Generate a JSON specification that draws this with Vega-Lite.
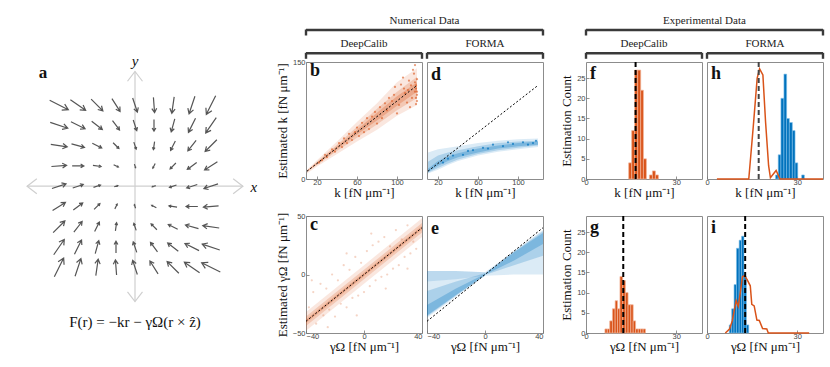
{
  "$schema": "https://vega.github.io/schema/vega-lite/v6.json",
  "padding": 0,
  "background": "white",
  "columns": 6,
  "spacing": {"row": 37, "column": 5},
  "bounds": "flush",
  "align": "each",
  "datasets": {
    "arrows": [
      {"i":-4,"j":4,"a":26.6,"m":1.07},{"i":-3,"j":4,"a":34.7,"m":0.95},{"i":-2,"j":4,"a":45,"m":0.85},{"i":-1,"j":4,"a":57.6,"m":0.78},{"i":0,"j":4,"a":71.6,"m":0.76},{"i":1,"j":4,"a":85.6,"m":0.78},{"i":2,"j":4,"a":98.2,"m":0.85},{"i":3,"j":4,"a":108.5,"m":0.95},{"i":4,"j":4,"a":116.6,"m":1.07},
      {"i":-4,"j":3,"a":18.5,"m":0.95},{"i":-3,"j":3,"a":26.6,"m":0.81},{"i":-2,"j":3,"a":37.9,"m":0.69},{"i":-1,"j":3,"a":53.2,"m":0.6},{"i":0,"j":3,"a":71.6,"m":0.57},{"i":1,"j":3,"a":90,"m":0.6},{"i":2,"j":3,"a":105.3,"m":0.69},{"i":3,"j":3,"a":116.6,"m":0.81},{"i":4,"j":3,"a":124.7,"m":0.95},
      {"i":-4,"j":2,"a":8.2,"m":0.85},{"i":-3,"j":2,"a":15.3,"m":0.69},{"i":-2,"j":2,"a":26.6,"m":0.54},{"i":-1,"j":2,"a":45,"m":0.42},{"i":0,"j":2,"a":71.6,"m":0.38},{"i":1,"j":2,"a":98.2,"m":0.42},{"i":2,"j":2,"a":116.6,"m":0.54},{"i":3,"j":2,"a":127.9,"m":0.69},{"i":4,"j":2,"a":135,"m":0.85},
      {"i":-4,"j":1,"a":-4.4,"m":0.78},{"i":-3,"j":1,"a":0,"m":0.6},{"i":-2,"j":1,"a":8.2,"m":0.42},{"i":-1,"j":1,"a":26.6,"m":0.27},{"i":0,"j":1,"a":71.6,"m":0.19},{"i":1,"j":1,"a":116.6,"m":0.27},{"i":2,"j":1,"a":135,"m":0.42},{"i":3,"j":1,"a":143.2,"m":0.6},{"i":4,"j":1,"a":147.6,"m":0.78},
      {"i":-4,"j":0,"a":-18.4,"m":0.76},{"i":-3,"j":0,"a":-18.4,"m":0.57},{"i":-2,"j":0,"a":-18.4,"m":0.38},{"i":-1,"j":0,"a":-18.4,"m":0.19},{"i":0,"j":0,"a":0,"m":0},{"i":1,"j":0,"a":161.6,"m":0.19},{"i":2,"j":0,"a":161.6,"m":0.38},{"i":3,"j":0,"a":161.6,"m":0.57},{"i":4,"j":0,"a":161.6,"m":0.76},
      {"i":-4,"j":-1,"a":-32.4,"m":0.78},{"i":-3,"j":-1,"a":-36.8,"m":0.6},{"i":-2,"j":-1,"a":-45,"m":0.42},{"i":-1,"j":-1,"a":-63.4,"m":0.27},{"i":0,"j":-1,"a":-108.4,"m":0.19},{"i":1,"j":-1,"a":-153.4,"m":0.27},{"i":2,"j":-1,"a":-171.8,"m":0.42},{"i":3,"j":-1,"a":180,"m":0.6},{"i":4,"j":-1,"a":175.6,"m":0.78},
      {"i":-4,"j":-2,"a":-45,"m":0.85},{"i":-3,"j":-2,"a":-52.1,"m":0.69},{"i":-2,"j":-2,"a":-63.4,"m":0.54},{"i":-1,"j":-2,"a":-81.8,"m":0.42},{"i":0,"j":-2,"a":-108.4,"m":0.38},{"i":1,"j":-2,"a":-135,"m":0.42},{"i":2,"j":-2,"a":-153.4,"m":0.54},{"i":3,"j":-2,"a":-164.7,"m":0.69},{"i":4,"j":-2,"a":-171.8,"m":0.85},
      {"i":-4,"j":-3,"a":-55.3,"m":0.95},{"i":-3,"j":-3,"a":-63.4,"m":0.81},{"i":-2,"j":-3,"a":-74.7,"m":0.69},{"i":-1,"j":-3,"a":-90,"m":0.6},{"i":0,"j":-3,"a":-108.4,"m":0.57},{"i":1,"j":-3,"a":-126.8,"m":0.6},{"i":2,"j":-3,"a":-142.1,"m":0.69},{"i":3,"j":-3,"a":-153.4,"m":0.81},{"i":4,"j":-3,"a":-161.5,"m":0.95},
      {"i":-4,"j":-4,"a":-63.4,"m":1.07},{"i":-3,"j":-4,"a":-71.5,"m":0.95},{"i":-2,"j":-4,"a":-81.8,"m":0.85},{"i":-1,"j":-4,"a":-94.4,"m":0.78},{"i":0,"j":-4,"a":-108.4,"m":0.76},{"i":1,"j":-4,"a":-122.4,"m":0.78},{"i":2,"j":-4,"a":-135,"m":0.85},{"i":3,"j":-4,"a":-145.3,"m":0.95},{"i":4,"j":-4,"a":-153.4,"m":1.07}
    ],
    "axl": [{"x":-5.68,"y":0,"x2":5.68,"y2":0},{"x":0,"y":-5.68,"x2":0,"y2":5.65}],
    "axh": [{"x":5.68,"y":0,"a":0},{"x":-5.68,"y":0,"a":180},{"x":0,"y":5.65,"a":270},{"x":0,"y":-5.68,"a":90}],
    "alab": [
      {"t":"x","x":6.26,"y":-0.05,"k":"ax"},
      {"t":"y","x":0,"y":6.15,"k":"ax"},
      {"t":"a","x":-4.84,"y":5.6,"k":"p"},
      {"t":"F(r) = −kr − γΩ(r × ẑ)","x":0,"y":-6.71,"k":"f"}
    ],
    "hNL": [{"t":"Numerical Data","x0":0,"x1":2.043,"xm":1.0215,"tier":1},{"t":"DeepCalib","x0":0,"x1":1,"xm":0.5,"tier":2}],
    "hNR": [{"t":"FORMA","x0":0,"x1":1,"xm":0.5,"tier":2}],
    "hEL": [{"t":"Experimental Data","x0":0,"x1":2.043,"xm":1.0215,"tier":1},{"t":"DeepCalib","x0":0,"x1":1,"xm":0.5,"tier":2}],
    "hER": [{"t":"FORMA","x0":0,"x1":1,"xm":0.5,"tier":2}],
    "bb": [
      {"l":"o","x":10,"lo":7,"hi":12},{"l":"o","x":20,"lo":16,"hi":24},{"l":"o","x":40,"lo":32,"hi":48},{"l":"o","x":60,"lo":48,"hi":73},{"l":"o","x":80,"lo":63,"hi":97},{"l":"o","x":100,"lo":81,"hi":124},{"l":"o","x":120,"lo":95,"hi":142},
      {"l":"m","x":10,"lo":9,"hi":11},{"l":"m","x":20,"lo":18,"hi":22},{"l":"m","x":40,"lo":36,"hi":44},{"l":"m","x":60,"lo":53,"hi":67},{"l":"m","x":80,"lo":70,"hi":90},{"l":"m","x":100,"lo":88,"hi":112},{"l":"m","x":120,"lo":104,"hi":131},
      {"l":"c","x":10,"lo":9.5,"hi":10.5},{"l":"c","x":20,"lo":19,"hi":21},{"l":"c","x":40,"lo":38,"hi":42},{"l":"c","x":60,"lo":57,"hi":63},{"l":"c","x":80,"lo":75,"hi":85},{"l":"c","x":100,"lo":94,"hi":106},{"l":"c","x":120,"lo":112,"hi":124}
    ],
    "bp": [{"x":95,"y":100},{"x":98,"y":118},{"x":102,"y":95},{"x":104,"y":121},{"x":108,"y":110},{"x":110,"y":98},{"x":112,"y":126},{"x":115,"y":104},{"x":117,"y":135},{"x":118,"y":112},{"x":119,"y":96},{"x":119,"y":120},{"x":120,"y":108},{"x":120,"y":128},{"x":118,"y":146},{"x":116,"y":140},{"x":113,"y":92},{"x":106,"y":130},{"x":100,"y":84},{"x":97,"y":108},{"x":92,"y":104},{"x":90,"y":88},{"x":88,"y":97},{"x":85,"y":78},{"x":83,"y":92},{"x":80,"y":71},{"x":78,"y":86},{"x":75,"y":80},{"x":72,"y":64},{"x":70,"y":78},{"x":67,"y":60},{"x":65,"y":72},{"x":62,"y":55},{"x":60,"y":66},{"x":58,"y":60},{"x":55,"y":50},{"x":52,"y":58},{"x":50,"y":46},{"x":47,"y":52},{"x":45,"y":41},{"x":42,"y":46},{"x":38,"y":35},{"x":35,"y":38},{"x":30,"y":28},{"x":28,"y":31},{"x":25,"y":24},{"x":22,"y":21},{"x":107,"y":116},{"x":111,"y":114},{"x":114,"y":120},{"x":119,"y":116},{"x":120,"y":112},{"x":119,"y":104},{"x":120,"y":100},{"x":118,"y":124}],
    "dd": [
      {"l":"o","x":10,"lo":7,"hi":34},{"l":"o","x":20,"lo":12,"hi":38},{"l":"o","x":30,"lo":18,"hi":40},{"l":"o","x":40,"lo":23,"hi":42},{"l":"o","x":60,"lo":30,"hi":46},{"l":"o","x":80,"lo":35,"hi":49},{"l":"o","x":100,"lo":38,"hi":51},{"l":"o","x":120,"lo":41,"hi":52},
      {"l":"m","x":10,"lo":8,"hi":22},{"l":"m","x":20,"lo":14,"hi":30},{"l":"m","x":30,"lo":20,"hi":34},{"l":"m","x":40,"lo":25,"hi":37},{"l":"m","x":60,"lo":32,"hi":42},{"l":"m","x":80,"lo":37,"hi":46},{"l":"m","x":100,"lo":40,"hi":48},{"l":"m","x":120,"lo":43,"hi":49},
      {"l":"c","x":10,"lo":9,"hi":13},{"l":"c","x":20,"lo":17,"hi":23},{"l":"c","x":30,"lo":23,"hi":29},{"l":"c","x":40,"lo":28,"hi":33},{"l":"c","x":60,"lo":34,"hi":39},{"l":"c","x":80,"lo":39,"hi":43},{"l":"c","x":100,"lo":42,"hi":46},{"l":"c","x":120,"lo":44,"hi":48}
    ],
    "dp": [{"x":30,"y":26},{"x":45,"y":31},{"x":55,"y":37},{"x":65,"y":40},{"x":75,"y":44},{"x":85,"y":42},{"x":95,"y":45},{"x":105,"y":47},{"x":115,"y":46},{"x":118,"y":49},{"x":25,"y":21},{"x":35,"y":30},{"x":50,"y":36},{"x":70,"y":39},{"x":90,"y":47},{"x":110,"y":44}],
    "lin1": [{"x":10,"y":10},{"x":120,"y":120}],
    "lin2": [{"x":-40,"y":-40},{"x":40,"y":40}],
    "cc": [
      {"l":"o","x":-40,"lo":-48,"hi":-32},{"l":"o","x":0,"lo":-8,"hi":8},{"l":"o","x":40,"lo":32,"hi":48},
      {"l":"m","x":-40,"lo":-44,"hi":-36},{"l":"m","x":0,"lo":-4,"hi":4},{"l":"m","x":40,"lo":36,"hi":44},
      {"l":"c","x":-40,"lo":-41.5,"hi":-38.5},{"l":"c","x":0,"lo":-1.5,"hi":1.5},{"l":"c","x":40,"lo":38.5,"hi":41.5}
    ],
    "cp": [{"x":-38,"y":-28},{"x":-35,"y":-15},{"x":-33,"y":-42},{"x":-30,"y":-8},{"x":-28,"y":-35},{"x":-26,"y":-12},{"x":-24,"y":-30},{"x":-22,"y":0},{"x":-20,"y":-36},{"x":-18,"y":-5},{"x":-16,"y":-25},{"x":-14,"y":8},{"x":-12,"y":-28},{"x":-10,"y":4},{"x":-8,"y":-20},{"x":-6,"y":15},{"x":-4,"y":-18},{"x":-2,"y":10},{"x":0,"y":-15},{"x":2,"y":20},{"x":4,"y":-10},{"x":6,"y":25},{"x":8,"y":-5},{"x":10,"y":28},{"x":12,"y":-2},{"x":14,"y":32},{"x":16,"y":0},{"x":18,"y":24},{"x":20,"y":5},{"x":22,"y":38},{"x":24,"y":8},{"x":26,"y":30},{"x":28,"y":15},{"x":30,"y":42},{"x":32,"y":18},{"x":34,"y":28},{"x":36,"y":22},{"x":-36,"y":-5},{"x":-12,"y":18},{"x":15,"y":-12},{"x":30,"y":5},{"x":-25,"y":-45},{"x":5,"y":35},{"x":-5,"y":-35}],
    "ee": [
      {"g":"Lo","l":"o","x":-40,"lo":-37,"hi":3},{"g":"Lo","l":"o","x":-20,"lo":-19,"hi":3},{"g":"Lo","l":"o","x":0,"lo":-1,"hi":2},
      {"g":"Lt","l":"o","x":-40,"lo":-6,"hi":3},{"g":"Lt","l":"o","x":-20,"lo":-4,"hi":3},{"g":"Lt","l":"o","x":0,"lo":-1,"hi":2},
      {"g":"Lm","l":"m","x":-40,"lo":-36,"hi":-14},{"g":"Lm","l":"m","x":-20,"lo":-18,"hi":-6},{"g":"Lm","l":"m","x":0,"lo":-1,"hi":1},
      {"g":"Lc","l":"c","x":-40,"lo":-35,"hi":-26},{"g":"Lc","l":"c","x":-20,"lo":-17.5,"hi":-12},{"g":"Lc","l":"c","x":0,"lo":-0.5,"hi":0.5},
      {"g":"Ro","l":"o","x":0,"lo":-1,"hi":2},{"g":"Ro","l":"o","x":20,"lo":0,"hi":20},{"g":"Ro","l":"o","x":40,"lo":0,"hi":38},
      {"g":"Rm","l":"m","x":0,"lo":-0.5,"hi":1},{"g":"Rm","l":"m","x":20,"lo":8,"hi":19.5},{"g":"Rm","l":"m","x":40,"lo":16,"hi":37},
      {"g":"Rc","l":"c","x":0,"lo":-0.3,"hi":0.5},{"g":"Rc","l":"c","x":20,"lo":12,"hi":19},{"g":"Rc","l":"c","x":40,"lo":26,"hi":35.5}
    ],
    "fb": [{"a":14.2,"b":15.2,"n":4},{"a":15.2,"b":16.2,"n":12},{"a":16.2,"b":17.2,"n":27},{"a":17.2,"b":18.2,"n":27},{"a":18.2,"b":19.1,"n":22},{"a":19.1,"b":20.1,"n":5},{"a":21.1,"b":22.1,"n":1},{"a":22.1,"b":23.1,"n":2},{"a":23.1,"b":24.1,"n":1}],
    "gb": [{"a":6.3,"b":7.1,"n":1},{"a":7.1,"b":7.9,"n":1},{"a":7.9,"b":8.8,"n":3},{"a":8.8,"b":9.7,"n":6},{"a":9.7,"b":10.5,"n":8},{"a":10.5,"b":11.3,"n":6},{"a":11.3,"b":12.2,"n":14},{"a":12.2,"b":13.1,"n":13},{"a":13.1,"b":14.0,"n":10},{"a":14.0,"b":14.9,"n":7},{"a":14.9,"b":15.7,"n":7},{"a":15.7,"b":16.5,"n":3},{"a":16.5,"b":17.4,"n":1},{"a":17.4,"b":18.2,"n":1},{"a":18.2,"b":19.0,"n":1},{"a":19.0,"b":19.8,"n":1}],
    "hb": [{"a":22.8,"b":23.7,"n":1},{"a":23.7,"b":24.6,"n":6},{"a":24.6,"b":25.6,"n":20},{"a":25.6,"b":26.5,"n":26},{"a":26.5,"b":27.4,"n":15},{"a":27.4,"b":28.4,"n":14},{"a":28.4,"b":29.3,"n":12},{"a":29.3,"b":30.2,"n":4},{"a":31.5,"b":32.4,"n":1}],
    "ib": [{"a":7.4,"b":8.2,"n":2},{"a":8.2,"b":9.0,"n":6},{"a":9.0,"b":9.8,"n":12},{"a":9.8,"b":10.7,"n":21},{"a":10.7,"b":11.5,"n":23},{"a":11.5,"b":12.3,"n":24},{"a":12.3,"b":13.1,"n":14},{"a":13.1,"b":13.9,"n":2}],
    "hl": [{"x":3.3,"y":0},{"x":13.9,"y":0},{"x":15.4,"y":13},{"x":16.7,"y":25},{"x":17.5,"y":27.3},{"x":18.6,"y":25.8},{"x":19.5,"y":14},{"x":20.5,"y":3.3},{"x":21.1,"y":0.3},{"x":23.0,"y":2.1},{"x":24.3,"y":0},{"x":38.6,"y":0}],
    "il": [{"x":6.1,"y":0},{"x":7.5,"y":1},{"x":8.4,"y":3},{"x":9.7,"y":8},{"x":10.4,"y":6.6},{"x":11.05,"y":9.8},{"x":11.8,"y":14},{"x":12.5,"y":14.2},{"x":13.3,"y":13.3},{"x":14.4,"y":11.7},{"x":14.9,"y":7.1},{"x":15.7,"y":6.7},{"x":16.6,"y":3.2},{"x":17.4,"y":3.1},{"x":18.5,"y":1.1},{"x":19.9,"y":1},{"x":20.4,"y":0},{"x":34.0,"y":0}],
    "fv": [{"v":16.5}],
    "gv": [{"v":12.4}],
    "hv": [{"v":17.2}],
    "iv": [{"v":12.7}]
  },
  "concat": [
    {"width":1,"height":1,"view":{"stroke":null},"data":{"values":[]},"mark":"point"},
    {
      "width":116,"height":24.5,"view":{"stroke":null},"data":{"name":"hNL"},
      "encoding":{"y":{"field":"tier","type":"quantitative","scale":{"domain":[-0.2876,0.764],"reverse":true,"nice":false,"zero":false},"axis":null}},
      "layer":[
        {"mark":{"type":"rule","color":"#3a3a3a","strokeWidth":2.4},"encoding":{"x":{"field":"x0","type":"quantitative","scale":{"domain":[0,1],"nice":false,"zero":false},"axis":null},"x2":{"field":"x1"}}},
        {"mark":{"type":"tick","orient":"vertical","color":"#3a3a3a","thickness":2.4,"size":6,"yOffset":2.5,"opacity":1},"encoding":{"x":{"field":"x0","type":"quantitative"}}},
        {"mark":{"type":"tick","orient":"vertical","color":"#3a3a3a","thickness":2.4,"size":6,"yOffset":2.5,"opacity":1},"encoding":{"x":{"field":"x1","type":"quantitative"}}},
        {"mark":{"type":"text","fontSize":11,"dy":-6,"baseline":"alphabetic","color":"#222","font":"Liberation Serif"},"encoding":{"x":{"field":"xm","type":"quantitative"},"text":{"field":"t"}}}
      ]
    },
    {
      "width":116,"height":24.5,"view":{"stroke":null},"data":{"name":"hNR"},
      "encoding":{"y":{"field":"tier","type":"quantitative","scale":{"domain":[-0.2876,0.764],"reverse":true,"nice":false,"zero":false},"axis":null}},
      "layer":[
        {"mark":{"type":"rule","color":"#3a3a3a","strokeWidth":2.4},"encoding":{"x":{"field":"x0","type":"quantitative","scale":{"domain":[0,1],"nice":false,"zero":false},"axis":null},"x2":{"field":"x1"}}},
        {"mark":{"type":"tick","orient":"vertical","color":"#3a3a3a","thickness":2.4,"size":6,"yOffset":2.5,"opacity":1},"encoding":{"x":{"field":"x0","type":"quantitative"}}},
        {"mark":{"type":"tick","orient":"vertical","color":"#3a3a3a","thickness":2.4,"size":6,"yOffset":2.5,"opacity":1},"encoding":{"x":{"field":"x1","type":"quantitative"}}},
        {"mark":{"type":"text","fontSize":11,"dy":-6,"baseline":"alphabetic","color":"#222","font":"Liberation Serif"},"encoding":{"x":{"field":"xm","type":"quantitative"},"text":{"field":"t"}}}
      ]
    },
    {"width":33,"height":1,"view":{"stroke":null},"data":{"values":[]},"mark":"point"},
    {
      "width":116,"height":24.5,"view":{"stroke":null},"data":{"name":"hEL"},
      "encoding":{"y":{"field":"tier","type":"quantitative","scale":{"domain":[-0.2876,0.764],"reverse":true,"nice":false,"zero":false},"axis":null}},
      "layer":[
        {"mark":{"type":"rule","color":"#3a3a3a","strokeWidth":2.4},"encoding":{"x":{"field":"x0","type":"quantitative","scale":{"domain":[0,1],"nice":false,"zero":false},"axis":null},"x2":{"field":"x1"}}},
        {"mark":{"type":"tick","orient":"vertical","color":"#3a3a3a","thickness":2.4,"size":6,"yOffset":2.5,"opacity":1},"encoding":{"x":{"field":"x0","type":"quantitative"}}},
        {"mark":{"type":"tick","orient":"vertical","color":"#3a3a3a","thickness":2.4,"size":6,"yOffset":2.5,"opacity":1},"encoding":{"x":{"field":"x1","type":"quantitative"}}},
        {"mark":{"type":"text","fontSize":11,"dy":-6,"baseline":"alphabetic","color":"#222","font":"Liberation Serif"},"encoding":{"x":{"field":"xm","type":"quantitative"},"text":{"field":"t"}}}
      ]
    },
    {
      "width":116,"height":24.5,"view":{"stroke":null},"data":{"name":"hER"},
      "encoding":{"y":{"field":"tier","type":"quantitative","scale":{"domain":[-0.2876,0.764],"reverse":true,"nice":false,"zero":false},"axis":null}},
      "layer":[
        {"mark":{"type":"rule","color":"#3a3a3a","strokeWidth":2.4},"encoding":{"x":{"field":"x0","type":"quantitative","scale":{"domain":[0,1],"nice":false,"zero":false},"axis":null},"x2":{"field":"x1"}}},
        {"mark":{"type":"tick","orient":"vertical","color":"#3a3a3a","thickness":2.4,"size":6,"yOffset":2.5,"opacity":1},"encoding":{"x":{"field":"x0","type":"quantitative"}}},
        {"mark":{"type":"tick","orient":"vertical","color":"#3a3a3a","thickness":2.4,"size":6,"yOffset":2.5,"opacity":1},"encoding":{"x":{"field":"x1","type":"quantitative"}}},
        {"mark":{"type":"text","fontSize":11,"dy":-6,"baseline":"alphabetic","color":"#222","font":"Liberation Serif"},"encoding":{"x":{"field":"xm","type":"quantitative"},"text":{"field":"t"}}}
      ]
    },
    {
      "width":301,"height":117,"view":{"stroke":null},
      "layer":[
        {"data":{"name":"axl"},"mark":{"type":"rule","color":"#cfcfcf","strokeWidth":1.2},
         "encoding":{"x":{"field":"x","type":"quantitative","scale":{"domain":[-7.105,8.737],"nice":false,"zero":false},"axis":null},
                     "y":{"field":"y","type":"quantitative","scale":{"domain":[0.355,6.118],"nice":false,"zero":false},"axis":null},
                     "x2":{"field":"x2"},"y2":{"field":"y2"}}},
        {"data":{"name":"axh"},"mark":{"type":"point","shape":"M-1.3,-1L0,0L-1.3,1","filled":false,"size":225,"color":"#cfcfcf","strokeWidth":1.2,"opacity":1},
         "encoding":{"x":{"field":"x","type":"quantitative"},"y":{"field":"y","type":"quantitative"},"angle":{"field":"a","type":"quantitative","scale":null}}},
        {"data":{"name":"arrows"},"mark":{"type":"point","shape":"M-1,0L1,0M0.45,-0.32L1,0L0.45,0.32","filled":false,"color":"#555555","strokeWidth":1.2,"opacity":1},
         "encoding":{"x":{"field":"i","type":"quantitative"},"y":{"field":"j","type":"quantitative"},
                     "angle":{"field":"a","type":"quantitative","scale":null},
                     "size":{"field":"m","type":"quantitative","scale":{"type":"pow","exponent":2,"domain":[0,1.07],"range":[0,435]},"legend":null}}},
        {"data":{"name":"alab"},"transform":[{"filter":"datum.k == 'ax'"}],"mark":{"type":"text","font":"Liberation Serif","fontStyle":"italic","fontSize":15,"color":"#111"},
         "encoding":{"x":{"field":"x","type":"quantitative"},"y":{"field":"y","type":"quantitative"},"text":{"field":"t"}}},
        {"data":{"name":"alab"},"transform":[{"filter":"datum.k == 'p'"}],"mark":{"type":"text","font":"Liberation Serif","fontWeight":"bold","fontSize":17,"color":"#111"},
         "encoding":{"x":{"field":"x","type":"quantitative"},"y":{"field":"y","type":"quantitative"},"text":{"field":"t"}}},
        {"data":{"name":"alab"},"transform":[{"filter":"datum.k == 'f'"}],"mark":{"type":"text","font":"Liberation Serif","fontSize":15,"color":"#111"},
         "encoding":{"x":{"field":"x","type":"quantitative"},"y":{"field":"y","type":"quantitative"},"text":{"field":"t"}}}
      ]
    },
    {
      "width":116,"height":117,"title":"b",
      "layer":[
        {"data":{"name":"bb"},"mark":{"type":"area","color":"#D95319","clip":true},
         "encoding":{"x":{"field":"x","type":"quantitative","scale":{"domain":[9,125],"nice":false,"zero":false},"axis":{"values":[20,40,60,80,100,120],"labelOverlap":false,"title":"k [fN μm⁻¹]"}},
                     "y":{"field":"lo","type":"quantitative","scale":{"domain":[0,150],"nice":false},"axis":{"values":[0,50,100,150],"labelOverlap":false,"title":"Estimated k [fN μm⁻¹]"}},
                     "y2":{"field":"hi"},"detail":{"field":"l"},
                     "opacity":{"field":"l","type":"ordinal","scale":{"domain":["o","m","c"],"range":[0.14,0.28,0.55]},"legend":null}}},
        {"data":{"name":"bp"},"mark":{"type":"circle","color":"#D95319","size":5,"opacity":0.6,"clip":true},
         "encoding":{"x":{"field":"x","type":"quantitative"},"y":{"field":"y","type":"quantitative"}}},
        {"data":{"name":"lin1"},"mark":{"type":"line","color":"#000","strokeDash":[2,2],"strokeWidth":1},
         "encoding":{"x":{"field":"x","type":"quantitative"},"y":{"field":"y","type":"quantitative"}}}
      ]
    },
    {
      "width":116,"height":117,"title":"d",
      "layer":[
        {"data":{"name":"dd"},"mark":{"type":"area","color":"#0072BD","clip":true},
         "encoding":{"x":{"field":"x","type":"quantitative","scale":{"domain":[9,125],"nice":false,"zero":false},"axis":{"values":[20,40,60,80,100,120],"labelOverlap":false,"title":"k [fN μm⁻¹]"}},
                     "y":{"field":"lo","type":"quantitative","scale":{"domain":[0,150],"nice":false},"axis":null},
                     "y2":{"field":"hi"},"detail":{"field":"l"},
                     "opacity":{"field":"l","type":"ordinal","scale":{"domain":["o","m","c"],"range":[0.14,0.28,0.5]},"legend":null}}},
        {"data":{"name":"dp"},"mark":{"type":"circle","color":"#0072BD","size":5,"opacity":0.7,"clip":true},
         "encoding":{"x":{"field":"x","type":"quantitative"},"y":{"field":"y","type":"quantitative"}}},
        {"data":{"name":"lin1"},"mark":{"type":"line","color":"#000","strokeDash":[2,2],"strokeWidth":1},
         "encoding":{"x":{"field":"x","type":"quantitative"},"y":{"field":"y","type":"quantitative"}}}
      ]
    },
    {"width":33,"height":1,"view":{"stroke":null},"data":{"values":[]},"mark":"point"},
    {
      "width":116,"height":117,"title":"f",
      "layer":[
        {"data":{"name":"fb"},"mark":{"type":"rect","color":"#D95319","stroke":"#f2b49a","strokeWidth":0.7},
         "encoding":{"x":{"field":"a","type":"quantitative","scale":{"domain":[0,38.6],"nice":false,"zero":false},"axis":{"values":[0,10,20,30],"labelOverlap":false,"title":"k [fN μm⁻¹]"}},
                     "x2":{"field":"b"},
                     "y":{"field":"n","type":"quantitative","scale":{"domain":[0,29],"nice":false},"axis":{"values":[0,5,10,15,20,25],"labelOverlap":false,"title":"Estimation Count"}},
                     "y2":{"datum":0}}},
        {"data":{"name":"fv"},"mark":{"type":"rule","color":"#000","strokeDash":[5,3],"strokeWidth":2},
         "encoding":{"x":{"field":"v","type":"quantitative"}}}
      ]
    },
    {
      "width":116,"height":117,"title":"h",
      "layer":[
        {"data":{"name":"hb"},"mark":{"type":"rect","color":"#0072BD","stroke":"#7fc0ea","strokeWidth":0.6},
         "encoding":{"x":{"field":"a","type":"quantitative","scale":{"domain":[0,38.6],"nice":false,"zero":false},"axis":{"values":[0,10,20,30],"labelOverlap":false,"title":"k [fN μm⁻¹]"}},
                     "x2":{"field":"b"},
                     "y":{"field":"n","type":"quantitative","scale":{"domain":[0,29],"nice":false},"axis":null},
                     "y2":{"datum":0}}},
        {"data":{"name":"hl"},"mark":{"type":"line","color":"#D95319","strokeWidth":1.5},
         "encoding":{"x":{"field":"x","type":"quantitative"},"y":{"field":"y","type":"quantitative"}}},
        {"data":{"name":"hv"},"mark":{"type":"rule","color":"#444","strokeDash":[5,3],"strokeWidth":2},
         "encoding":{"x":{"field":"v","type":"quantitative"}}}
      ]
    },
    {"width":1,"height":1,"view":{"stroke":null},"data":{"values":[]},"mark":"point"},
    {
      "width":116,"height":117,"title":"c",
      "layer":[
        {"data":{"name":"cc"},"mark":{"type":"area","color":"#D95319","clip":true},
         "encoding":{"x":{"field":"x","type":"quantitative","scale":{"domain":[-40,40],"nice":false,"zero":false},"axis":{"values":[-40,-20,0,20,40],"labelOverlap":false,"labelFlush":true,"title":"γΩ [fN μm⁻¹]"}},
                     "y":{"field":"lo","type":"quantitative","scale":{"domain":[-50,50],"nice":false},"axis":{"values":[-50,0,50],"labelOverlap":false,"title":"Estimated γΩ [fN μm⁻¹]"}},
                     "y2":{"field":"hi"},"detail":{"field":"l"},
                     "opacity":{"field":"l","type":"ordinal","scale":{"domain":["o","m","c"],"range":[0.14,0.3,0.6]},"legend":null}}},
        {"data":{"name":"cp"},"mark":{"type":"circle","color":"#D95319","size":5,"opacity":0.25,"clip":true},
         "encoding":{"x":{"field":"x","type":"quantitative"},"y":{"field":"y","type":"quantitative"}}},
        {"data":{"name":"lin2"},"mark":{"type":"line","color":"#000","strokeDash":[2,2],"strokeWidth":1},
         "encoding":{"x":{"field":"x","type":"quantitative"},"y":{"field":"y","type":"quantitative"}}}
      ]
    },
    {
      "width":116,"height":117,"title":"e",
      "layer":[
        {"data":{"name":"ee"},"mark":{"type":"area","color":"#0072BD","clip":true},
         "encoding":{"x":{"field":"x","type":"quantitative","scale":{"domain":[-40,40],"nice":false,"zero":false},"axis":{"values":[-40,-20,0,20,40],"labelOverlap":false,"labelFlush":true,"title":"γΩ [fN μm⁻¹]"}},
                     "y":{"field":"lo","type":"quantitative","scale":{"domain":[-50,50],"nice":false},"axis":null},
                     "y2":{"field":"hi"},"detail":{"field":"g"},
                     "opacity":{"field":"l","type":"ordinal","scale":{"domain":["o","m","c"],"range":[0.14,0.28,0.5]},"legend":null}}},
        {"data":{"name":"lin2"},"mark":{"type":"line","color":"#000","strokeDash":[2,2],"strokeWidth":1},
         "encoding":{"x":{"field":"x","type":"quantitative"},"y":{"field":"y","type":"quantitative"}}}
      ]
    },
    {"width":33,"height":1,"view":{"stroke":null},"data":{"values":[]},"mark":"point"},
    {
      "width":116,"height":117,"title":"g",
      "layer":[
        {"data":{"name":"gb"},"mark":{"type":"rect","color":"#D95319","stroke":"#f2b49a","strokeWidth":0.7},
         "encoding":{"x":{"field":"a","type":"quantitative","scale":{"domain":[0,38.6],"nice":false,"zero":false},"axis":{"values":[0,10,20,30],"labelOverlap":false,"title":"γΩ [fN μm⁻¹]"}},
                     "x2":{"field":"b"},
                     "y":{"field":"n","type":"quantitative","scale":{"domain":[0,29],"nice":false},"axis":{"values":[0,5,10,15,20,25],"labelOverlap":false,"title":"Estimation Count"}},
                     "y2":{"datum":0}}},
        {"data":{"name":"gv"},"mark":{"type":"rule","color":"#000","strokeDash":[5,3],"strokeWidth":2},
         "encoding":{"x":{"field":"v","type":"quantitative"}}}
      ]
    },
    {
      "width":116,"height":117,"title":"i",
      "layer":[
        {"data":{"name":"ib"},"mark":{"type":"rect","color":"#0072BD","stroke":"#7fc0ea","strokeWidth":0.6},
         "encoding":{"x":{"field":"a","type":"quantitative","scale":{"domain":[0,38.6],"nice":false,"zero":false},"axis":{"values":[0,10,20,30],"labelOverlap":false,"title":"γΩ [fN μm⁻¹]"}},
                     "x2":{"field":"b"},
                     "y":{"field":"n","type":"quantitative","scale":{"domain":[0,29],"nice":false},"axis":null},
                     "y2":{"datum":0}}},
        {"data":{"name":"il"},"mark":{"type":"line","color":"#D95319","strokeWidth":1.5},
         "encoding":{"x":{"field":"x","type":"quantitative"},"y":{"field":"y","type":"quantitative"}}},
        {"data":{"name":"iv"},"mark":{"type":"rule","color":"#000","strokeDash":[5,3],"strokeWidth":2},
         "encoding":{"x":{"field":"v","type":"quantitative"}}}
      ]
    }
  ],
  "config": {
    "view": {"stroke": "#8c8c8c", "strokeWidth": 1},
    "axis": {"domain": false, "grid": false, "tickSize": -3, "tickColor": "#777", "tickWidth": 0.8,
             "labelFont": "Liberation Sans", "labelFontSize": 7.5, "labelColor": "#444", "labelPadding": 2,
             "labelFlush": false, "labelOverlap": false,
             "titleFont": "Liberation Serif", "titleFontSize": 13, "titleFontWeight": "normal", "titleColor": "#111"},
    "axisX": {"titlePadding": 1},
    "axisY": {"titlePadding": 3, "labelPadding": 4},
    "title": {"anchor": "start", "frame": "group", "font": "Liberation Serif", "fontSize": 18, "fontWeight": "bold", "offset": -22, "dx": 4, "color": "#111"},
    "text": {"font": "Liberation Serif"}
  }
}
